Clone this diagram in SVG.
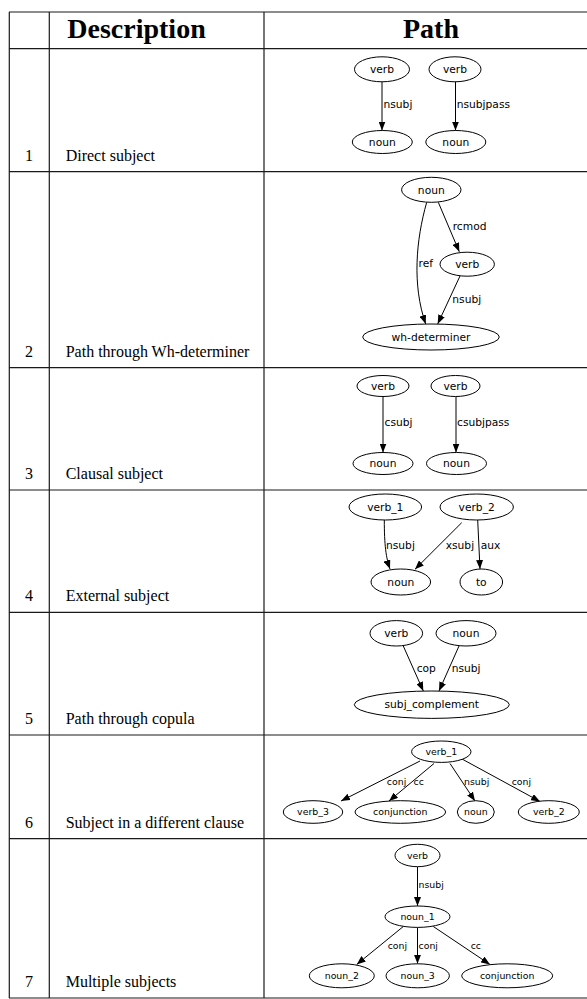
<svg xmlns="http://www.w3.org/2000/svg" width="587" height="999" viewBox="0 0 587 999">
<style>
.grid line{stroke:#1a1a1a;stroke-width:1.2}
.hdr{font-family:"Liberation Serif","Times New Roman",serif;font-weight:bold;font-size:28px;fill:#000;text-anchor:middle}
.num{font-family:"Liberation Serif","Times New Roman",serif;font-size:16px;fill:#000;text-anchor:middle}
.desc{font-family:"Liberation Serif","Times New Roman",serif;font-size:16px;fill:#000}
.node ellipse{fill:#fff;stroke:#000;stroke-width:1}
.node text{font-family:"DejaVu Sans",sans-serif;font-size:10.7px;fill:#000;text-anchor:middle}
.sm .node text,.sm .lbl{font-size:9.4px}
.edge{fill:none;stroke:#000;stroke-width:1;marker-end:url(#arr)}
.lbl{font-family:"DejaVu Sans",sans-serif;font-size:10.7px;fill:#000}
</style>
<defs>
<marker id="arr" markerUnits="userSpaceOnUse" markerWidth="9" markerHeight="7" refX="9" refY="3.5" orient="auto">
<path d="M0,0 L9,3.5 L0,7 z" fill="#000"/>
</marker>
</defs>
<rect width="587" height="999" fill="#fff"/>
<g class="grid">
<line x1="9" y1="12" x2="587" y2="12"/>
<line x1="9" y1="48.7" x2="587" y2="48.7"/>
<line x1="9" y1="171.7" x2="587" y2="171.7"/>
<line x1="9" y1="367.7" x2="587" y2="367.7"/>
<line x1="9" y1="490" x2="587" y2="490"/>
<line x1="9" y1="612.3" x2="587" y2="612.3"/>
<line x1="9" y1="735" x2="587" y2="735"/>
<line x1="9" y1="838.7" x2="587" y2="838.7"/>
<line x1="9" y1="998" x2="587" y2="998"/>
<line x1="9.3" y1="12" x2="9.3" y2="998"/>
<line x1="49.3" y1="12" x2="49.3" y2="998"/>
<line x1="264" y1="12" x2="264" y2="998"/>
</g>
<g id="header">
<text class="hdr" x="136.5" y="37.7">Description</text>
<text class="hdr" x="431" y="37.7">Path</text>
</g>
<g id="rows-text">
<text class="num" x="29" y="160.7">1</text><text class="desc" x="65.7" y="160.7">Direct subject</text>
<text class="num" x="29" y="356.7">2</text><text class="desc" x="65.7" y="356.7">Path through Wh-determiner</text>
<text class="num" x="29" y="479">3</text><text class="desc" x="65.7" y="479">Clausal subject</text>
<text class="num" x="29" y="601.3">4</text><text class="desc" x="65.7" y="601.3">External subject</text>
<text class="num" x="29" y="724">5</text><text class="desc" x="65.7" y="724">Path through copula</text>
<text class="num" x="29" y="827.7">6</text><text class="desc" x="65.7" y="827.7">Subject in a different clause</text>
<text class="num" x="29" y="987">7</text><text class="desc" x="65.7" y="987">Multiple subjects</text>
</g>

<!-- Row 1 -->
<g id="r1">
<g id="connectors1">
<path class="edge" d="M382,81.8 L382,130.5"/>
<path class="edge" d="M455.5,81.8 L455.5,130.5"/>
<text class="lbl" x="383.5" y="108.3">nsubj</text>
<text class="lbl" x="456.7" y="108.3">nsubjpass</text>
</g>
<g id="r1_verb_a" class="node"><ellipse cx="382" cy="69.3" rx="27.5" ry="12.5"/><text x="382" y="73">verb</text></g>
<g id="r1_verb_b" class="node"><ellipse cx="455" cy="69.3" rx="26" ry="12.5"/><text x="455" y="73">verb</text></g>
<g id="r1_noun_a" class="node"><ellipse cx="382.3" cy="142" rx="30" ry="11.5"/><text x="382.3" y="145.7">noun</text></g>
<g id="r1_noun_b" class="node"><ellipse cx="455.8" cy="142" rx="30" ry="11.5"/><text x="455.8" y="145.7">noun</text></g>
</g>

<!-- Row 2 -->
<g id="r2">
<g id="connectors2">
<path class="edge" d="M438.3,202.3 L459.3,251.8"/>
<path class="edge" d="M426.7,202.3 C416,240 412,285 425.7,324"/>
<path class="edge" d="M460,276 L437.7,324"/>
<text class="lbl" x="452.7" y="230">rcmod</text>
<text class="lbl" x="418.5" y="266.7">ref</text>
<text class="lbl" x="452.3" y="303.3">nsubj</text>
</g>
<g id="r2_noun" class="node"><ellipse cx="431.3" cy="189.8" rx="29.7" ry="12.5"/><text x="431.3" y="193.5">noun</text></g>
<g id="r2_verb" class="node"><ellipse cx="467.2" cy="264.2" rx="27.2" ry="12"/><text x="467.2" y="267.9">verb</text></g>
<g id="r2_wh" class="node"><ellipse cx="431" cy="337" rx="68.3" ry="13"/><text x="431" y="340.7">wh-determiner</text></g>
</g>

<!-- Row 3 -->
<g id="r3">
<g id="connectors3">
<path class="edge" d="M383,396.5 L383,452.5"/>
<path class="edge" d="M456,396.5 L456,452.5"/>
<text class="lbl" x="384.5" y="426">csubj</text>
<text class="lbl" x="457" y="426">csubjpass</text>
</g>
<g id="r3_verb_a" class="node"><ellipse cx="383" cy="386" rx="26" ry="10.5"/><text x="383" y="389.7">verb</text></g>
<g id="r3_verb_b" class="node"><ellipse cx="455.5" cy="386" rx="24.5" ry="10.5"/><text x="455.5" y="389.7">verb</text></g>
<g id="r3_noun_a" class="node"><ellipse cx="383" cy="463.5" rx="30" ry="11"/><text x="383" y="467.2">noun</text></g>
<g id="r3_noun_b" class="node"><ellipse cx="456.5" cy="463.5" rx="30" ry="11"/><text x="456.5" y="467.2">noun</text></g>
</g>

<!-- Row 4 -->
<g id="r4">
<g id="connectors4">
<path class="edge" d="M384.3,520 C384.3,545 386,558 390,569"/>
<path class="edge" d="M461.7,522.7 L415,569.3"/>
<path class="edge" d="M477.7,520 L480,569"/>
<text class="lbl" x="386" y="549">nsubj</text>
<text class="lbl" x="445.7" y="549">xsubj</text>
<text class="lbl" x="480.7" y="549">aux</text>
</g>
<g id="r4_verb_1" class="node"><ellipse cx="385.3" cy="507" rx="36.3" ry="13"/><text x="385.3" y="510.7">verb_1</text></g>
<g id="r4_verb_2" class="node"><ellipse cx="476.7" cy="507" rx="36.7" ry="13"/><text x="476.7" y="510.7">verb_2</text></g>
<g id="r4_noun" class="node"><ellipse cx="400.8" cy="582" rx="29.8" ry="13"/><text x="400.8" y="585.7">noun</text></g>
<g id="r4_to" class="node"><ellipse cx="481.3" cy="582" rx="21.3" ry="13"/><text x="481.3" y="585.7">to</text></g>
</g>

<!-- Row 5 -->
<g id="r5">
<g id="connectors5">
<path class="edge" d="M403.3,646 L423.3,691"/>
<path class="edge" d="M459,646 L439,691"/>
<text class="lbl" x="416.7" y="671.7">cop</text>
<text class="lbl" x="451.7" y="671.7">nsubj</text>
</g>
<g id="r5_verb" class="node"><ellipse cx="396.3" cy="633.3" rx="26.3" ry="12.7"/><text x="396.3" y="637">verb</text></g>
<g id="r5_noun" class="node"><ellipse cx="466" cy="633.3" rx="30" ry="12.7"/><text x="466" y="637">noun</text></g>
<g id="r5_subj" class="node"><ellipse cx="431.8" cy="704.7" rx="77.5" ry="13.7"/><text x="431.8" y="708.4">subj_complement</text></g>
</g>

<!-- Row 6 -->
<g id="r6" class="sm">
<g id="connectors6">
<path class="edge" d="M420,761 L341,801"/>
<path class="edge" d="M434,763.5 L389,801"/>
<path class="edge" d="M450,763.5 L475,801"/>
<path class="edge" d="M462,759 L540,801.5"/>
<text class="lbl" x="386.8" y="785">conj</text>
<text class="lbl" x="413.5" y="785">cc</text>
<text class="lbl" x="464" y="785">nsubj</text>
<text class="lbl" x="511.7" y="785">conj</text>
</g>
<g id="r6_verb_1" class="node"><ellipse cx="441.3" cy="751.7" rx="29.7" ry="10.7"/><text x="441.3" y="755">verb_1</text></g>
<g id="r6_verb_3" class="node"><ellipse cx="313" cy="812" rx="29.7" ry="11.3"/><text x="313" y="815.3">verb_3</text></g>
<g id="r6_conjunction" class="node"><ellipse cx="400.3" cy="812" rx="45.3" ry="11.3"/><text x="400.3" y="815.3">conjunction</text></g>
<g id="r6_noun" class="node"><ellipse cx="475.8" cy="812" rx="18.5" ry="11.3"/><text x="475.8" y="815.3">noun</text></g>
<g id="r6_verb_2" class="node"><ellipse cx="548.8" cy="812" rx="30.5" ry="11.3"/><text x="548.8" y="815.3">verb_2</text></g>
</g>

<!-- Row 7 -->
<g id="r7" class="sm">
<g id="connectors7">
<path class="edge" d="M417.5,866.7 L417.5,906"/>
<path class="edge" d="M403.3,926.5 L356.7,964.5"/>
<path class="edge" d="M417.5,927.4 L417.5,963.8"/>
<path class="edge" d="M433.3,926.5 L490,964.5"/>
<text class="lbl" x="418.5" y="888.3">nsubj</text>
<text class="lbl" x="387.7" y="949">conj</text>
<text class="lbl" x="418.5" y="949">conj</text>
<text class="lbl" x="470.7" y="949">cc</text>
</g>
<g id="r7_verb" class="node"><ellipse cx="417.5" cy="855.5" rx="22.5" ry="11.2"/><text x="417.5" y="858.8">verb</text></g>
<g id="r7_noun_1" class="node"><ellipse cx="417.5" cy="916.7" rx="32.5" ry="10.7"/><text x="417.5" y="920">noun_1</text></g>
<g id="r7_noun_2" class="node"><ellipse cx="341.8" cy="975.8" rx="32.5" ry="12"/><text x="341.8" y="979.1">noun_2</text></g>
<g id="r7_noun_3" class="node"><ellipse cx="417.7" cy="975.8" rx="31.7" ry="12"/><text x="417.7" y="979.1">noun_3</text></g>
<g id="r7_conjunction" class="node"><ellipse cx="507.2" cy="975.8" rx="45.5" ry="12"/><text x="507.2" y="979.1">conjunction</text></g>
</g>
</svg>
